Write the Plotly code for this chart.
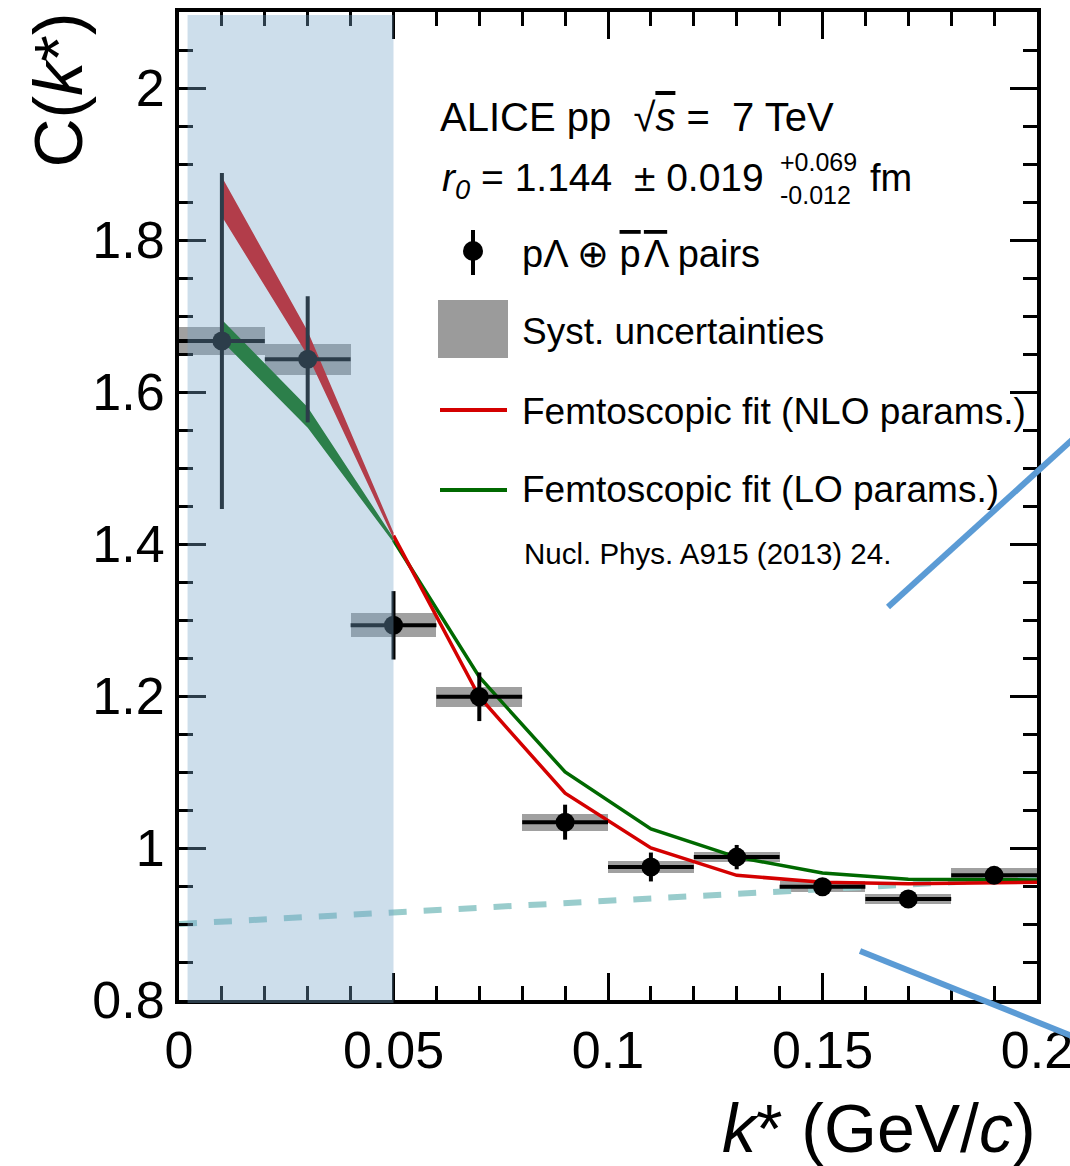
import plotly.graph_objects as go

# ---------------- data ----------------
k_centers = [0.01, 0.03, 0.05, 0.07, 0.09, 0.11, 0.13, 0.15, 0.17, 0.19]
C_values = [1.667, 1.643, 1.293, 1.199, 1.034, 0.975, 0.988, 0.949, 0.933, 0.964]
stat_err = [0.221, 0.083, 0.045, 0.032, 0.023, 0.019, 0.016, 0.011, 0.010, 0.010]
syst_err = [0.018, 0.020, 0.016, 0.013, 0.011, 0.008, 0.007, 0.007, 0.007, 0.010]
bin_half = [0.01] * 10

band_k = [0.01, 0.03, 0.05]
nlo_band_hi = [1.883, 1.680, 1.415]
nlo_band_lo = [1.831, 1.648, 1.407]
lo_band_hi = [1.695, 1.580, 1.408]
lo_band_lo = [1.667, 1.553, 1.402]

fit_k = [0.05, 0.07, 0.09, 0.11, 0.13, 0.15, 0.17, 0.19, 0.20]
nlo_fit = [1.411, 1.199, 1.072, 1.000, 0.964, 0.955, 0.953, 0.954, 0.955]
lo_fit = [1.405, 1.225, 1.100, 1.025, 0.988, 0.967, 0.959, 0.958, 0.958]

baseline_k = [0.0, 0.2]
baseline_C = [0.900, 0.961]

x_tickvals = [0, 0.05, 0.1, 0.15, 0.2]
x_ticktext = ["0", "0.05", "0.1", "0.15", "0.2"]
y_tickvals = [0.8, 1.0, 1.2, 1.4, 1.6, 1.8, 2.0]
y_ticktext = ["0.8", "1", "1.2", "1.4", "1.6", "1.8", "2"]

# ---------------- styles ----------------
FONT = "Liberation Sans, Arial, Helvetica, sans-serif"
RED = "rgb(212,0,0)"
GREEN = "rgb(0,105,0)"
GREY = "rgba(128,128,128,0.75)"
NB = "\u00a0"

W, H = 1070, 1166
L, R, T, B = 179, 1037, 12, 1000


def px(x):
    return (x - L) / (R - L)


def py(y):
    return (B - y) / (B - T)


fig = go.Figure()

# systematic boxes
fig.add_trace(go.Bar(
    x=k_centers,
    y=[2 * s for s in syst_err],
    base=[c - s for c, s in zip(C_values, syst_err)],
    width=[2 * h for h in bin_half],
    marker=dict(color=GREY, line=dict(width=0)),
    showlegend=False, hoverinfo="skip",
))

# baseline dashed
fig.add_trace(go.Scatter(
    x=baseline_k, y=baseline_C, mode="lines",
    line=dict(color="rgb(153,204,204)", width=6, dash="18px,17px"),
    showlegend=False, hoverinfo="skip",
))

# bands
fig.add_trace(go.Scatter(
    x=band_k + band_k[::-1], y=nlo_band_hi + nlo_band_lo[::-1],
    mode="lines", fill="toself", fillcolor=RED, line=dict(width=0, color=RED),
    showlegend=False, hoverinfo="skip",
))
fig.add_trace(go.Scatter(
    x=band_k + band_k[::-1], y=lo_band_hi + lo_band_lo[::-1],
    mode="lines", fill="toself", fillcolor=GREEN, line=dict(width=0, color=GREEN),
    showlegend=False, hoverinfo="skip",
))

# fit lines
fig.add_trace(go.Scatter(
    x=fit_k, y=lo_fit, mode="lines",
    line=dict(color=GREEN, width=3.5), showlegend=False, hoverinfo="skip",
))
fig.add_trace(go.Scatter(
    x=fit_k, y=nlo_fit, mode="lines",
    line=dict(color=RED, width=3.5), showlegend=False, hoverinfo="skip",
))

# data
fig.add_trace(go.Scatter(
    x=k_centers, y=C_values, mode="markers",
    marker=dict(color="black", size=19),
    error_y=dict(type="data", array=stat_err, visible=True, color="black", thickness=4, width=0),
    error_x=dict(type="data", array=bin_half, visible=True, color="black", thickness=4, width=0),
    showlegend=False,
))

shapes = []
# blue highlighted region (drawn above)
shapes.append(dict(
    type="rect", xref="x", yref="y domain", x0=0.002, x1=0.05, y0=-0.003, y1=0.997,
    fillcolor="rgba(120,165,200,0.37)", line=dict(width=0), layer="above",
))

# zoom indicator lines (outside the frame)
shapes.append(dict(type="line", xref="paper", yref="paper",
                   x0=px(888), y0=py(607), x1=px(1072), y1=py(440),
                   line=dict(color="rgb(91,155,213)", width=6), layer="above"))
shapes.append(dict(type="line", xref="paper", yref="paper",
                   x0=px(860), y0=py(951), x1=px(1072), y1=py(1036),
                   line=dict(color="rgb(91,155,213)", width=6), layer="above"))

# legend symbols
shapes.append(dict(type="line", xref="paper", yref="paper",
                   x0=px(473), x1=px(473), y0=py(230), y1=py(275),
                   line=dict(color="black", width=4)))
shapes.append(dict(type="circle", xref="paper", yref="paper",
                   x0=px(463), x1=px(483), y0=py(241), y1=py(261),
                   fillcolor="black", line=dict(color="black", width=0)))
shapes.append(dict(type="rect", xref="paper", yref="paper",
                   x0=px(438), x1=px(508), y0=py(300), y1=py(358),
                   fillcolor="rgb(155,155,155)", line=dict(width=0)))
shapes.append(dict(type="line", xref="paper", yref="paper",
                   x0=px(440), x1=px(507), y0=py(410), y1=py(410),
                   line=dict(color=RED, width=4)))
shapes.append(dict(type="line", xref="paper", yref="paper",
                   x0=px(440), x1=px(507), y0=py(490), y1=py(490),
                   line=dict(color=GREEN, width=4)))

annotations = []


def text(x, y, s, size, anchor="left", **kw):
    annotations.append(dict(
        xref="paper", yref="paper", x=px(x), y=py(y), text=s, showarrow=False,
        xanchor=anchor, yanchor="middle", font=dict(family=FONT, size=size, color="black"), **kw))


OL = "<span style='text-decoration:overline'>{}</span>"

text(438, 117, "ALICE pp " + NB + "√" + OL.format("<i>s</i>") + " = " + NB + "7 TeV", 40)
text(440, 180, "<i>r</i><sub><i>0</i></sub> = 1.144 " + NB + "± 0.019", 39)
text(778, 162, "+0.069", 25)
text(778, 195, "-0.012", 25)
text(868, 178, "fm", 38)
text(520, 254, "pΛ ⊕ " + OL.format("p") + "\u200a" + OL.format("Λ") + " pairs", 38)
text(520, 332, "Syst. uncertainties", 37)
text(520, 411, "Femtoscopic fit (NLO params.)", 37)
text(520, 490, "Femtoscopic fit (LO params.)", 37)
text(522, 553, "Nucl. Phys. A915 (2013) 24.", 29.5)

# axis titles
annotations.append(dict(xref="paper", yref="paper", x=px(57), y=py(11), text="C(<i>k</i>*)",
                        showarrow=False, textangle=-90, xanchor="center", yanchor="top",
                        font=dict(family=FONT, size=68, color="black")))
annotations.append(dict(xref="paper", yref="paper", x=px(1038), y=py(1128), text="<i>k</i>* (GeV/<i>c</i>)",
                        showarrow=False, xanchor="right", yanchor="middle",
                        font=dict(family=FONT, size=68, color="black")))

axis_common = dict(
    showline=True, linewidth=4, linecolor="black", mirror="ticks",
    ticks="inside", tickwidth=3, tickcolor="black", ticklen=27,
    showgrid=False, zeroline=False, ticklabeloverflow="allow",
    tickfont=dict(family=FONT, size=52, color="black"),
)

fig.update_xaxes(range=[0, 0.2], tickmode="array", tickvals=x_tickvals, ticktext=x_ticktext,
                 minor=dict(ticks="inside", ticklen=14, tickwidth=3, tickcolor="black",
                            tickmode="linear", tick0=0, dtick=0.01),
                 ticklabelstandoff=2, **axis_common)
fig.update_yaxes(range=[0.8, 2.1], tickmode="array", tickvals=y_tickvals, ticktext=y_ticktext,
                 minor=dict(ticks="inside", ticklen=14, tickwidth=3, tickcolor="black",
                            tickmode="linear", tick0=0.8, dtick=0.05),
                 ticklabelstandoff=0, **axis_common)

fig.update_layout(
    width=W, height=H,
    margin=dict(l=L, r=W - R, t=T, b=H - B, autoexpand=False),
    paper_bgcolor="white", plot_bgcolor="white",
    showlegend=False, barmode="overlay", bargap=0,
    shapes=shapes, annotations=annotations,
)

fig.write_html("out.html")
